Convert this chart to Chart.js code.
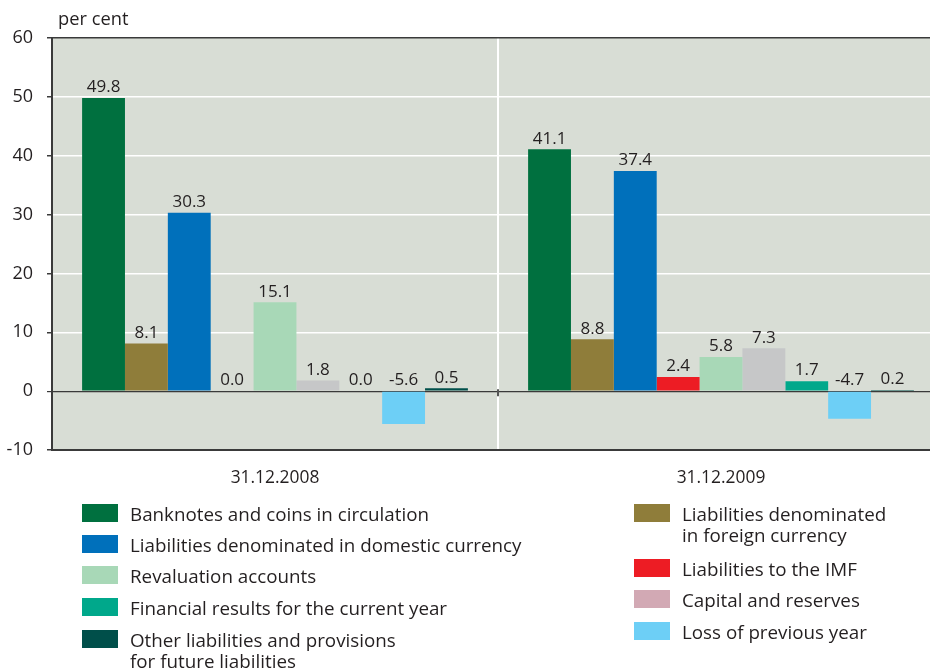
<!DOCTYPE html>
<html>
<head>
<meta charset="utf-8">
<script src="https://cdn.jsdelivr.net/npm/chart.js@4"></script>
<style>
  html, body { margin: 0; padding: 0; background: #fff; width: 930px; height: 669px; overflow: hidden; }
  #wrap { position: relative; width: 946px; height: 669px; }
  #chart { position: absolute; left: 0; top: 0; }
  .unit { position: absolute; left: 58px; top: 5px; font: 18.3px 'Open Sans', sans-serif; color: #231f20; }
  .item { position: absolute; font: 18.8px/21px 'Open Sans', sans-serif; color: #231f20; white-space: nowrap; }
  .sw { position: absolute; width: 36px; height: 18px; }
</style>
</head>
<body>
<div id="wrap">
  <canvas id="chart" width="946" height="669"></canvas>
  <div class="unit">per cent</div>
  <div id="legend"></div>
</div>
<script>
// Structure of liabilities, share in per cent
const categories = ['31.12.2008', '31.12.2009'];
const yTicks = [-10, 0, 10, 20, 30, 40, 50, 60];

const banknotes        = [49.8, 41.1];
const foreignCurrency  = [8.1, 8.8];
const domesticCurrency = [30.3, 37.4];
const imfLiabilities   = [0.0, 2.4];
const revaluation      = [15.1, 5.8];
const capitalReserves  = [1.8, 7.3];
const financialResults = [0.0, 1.7];
const lossPreviousYear = [-5.6, -4.7];
const otherLiabilities = [0.5, 0.2];

const seriesNames = [
  'Banknotes and coins in circulation',
  'Liabilities denominated\nin foreign currency',
  'Liabilities denominated in domestic currency',
  'Liabilities to the IMF',
  'Revaluation accounts',
  'Capital and reserves',
  'Financial results for the current year',
  'Loss of previous year',
  'Other liabilities and provisions\nfor future liabilities'
];
const seriesValues = [banknotes, foreignCurrency, domesticCurrency, imfLiabilities,
  revaluation, capitalReserves, financialResults, lossPreviousYear, otherLiabilities];
const barColors    = ['#00703f', '#8f7d3a', '#0070bb', '#ed1c24', '#a8d8b7', '#c6c7c8', '#00a88b', '#6dcff6', '#004f4a'];
const legendColors = ['#00703f', '#8f7d3a', '#0070bb', '#ed1c24', '#a8d8b7', '#d2a9b4', '#00a88b', '#6dcff6', '#004f4a'];

const TEXT = '#231f20';
const DARK = '#3a3a3a';
Chart.defaults.font.family = "'Open Sans', sans-serif";
Chart.defaults.color = TEXT;

const plotBackground = {
  id: 'plotBackground',
  beforeDraw(chart) {
    const { ctx, chartArea: a } = chart;
    ctx.save();
    ctx.fillStyle = '#d8ddd5';
    ctx.fillRect(a.left, a.top, a.right - a.left, a.bottom - a.top);
    ctx.restore();
  }
};

const valueLabels = {
  id: 'valueLabels',
  afterDatasetsDraw(chart) {
    const { ctx } = chart;
    const y0 = chart.scales.y.getPixelForValue(0);
    ctx.save();
    ctx.font = "17px 'Open Sans', sans-serif";
    ctx.fillStyle = TEXT;
    ctx.textAlign = 'center';
    ctx.textBaseline = 'bottom';
    chart.data.datasets.forEach((ds, i) => {
      chart.getDatasetMeta(i).data.forEach((bar, j) => {
        const v = ds.data[j];
        const y = v >= 0 ? bar.y : y0;
        ctx.fillText(v.toFixed(1), bar.x, y - 2);
      });
    });
    ctx.restore();
  }
};

const groupDivider = {
  id: 'groupDivider',
  afterDraw(chart) {
    const { ctx } = chart;
    const xs = chart.scales.x;
    const x = Math.round((xs.getPixelForValue(0) + xs.getPixelForValue(1)) / 2);
    const y0 = chart.scales.y.getPixelForValue(0);
    ctx.save();
    ctx.strokeStyle = '#555';
    ctx.lineWidth = 2;
    ctx.beginPath();
    ctx.moveTo(x, y0 - 2);
    ctx.lineTo(x, y0 + 5);
    ctx.stroke();
    ctx.restore();
  }
};

new Chart(document.getElementById('chart'), {
  type: 'bar',
  data: {
    labels: categories,
    datasets: seriesNames.map((name, i) => ({
      label: name,
      data: seriesValues[i],
      backgroundColor: barColors[i],
      borderWidth: 0,
      categoryPercentage: 0.865,
      barPercentage: 1.0
    }))
  },
  options: {
    responsive: false,
    animation: false,
    layout: { padding: { top: 38, left: 0, right: 2, bottom: 179 } },
    plugins: { legend: { display: false }, tooltip: { enabled: false } },
    scales: {
      x: {
        afterFit(scale) { scale.height = 40; },
        grid: {
          offset: true,
          drawTicks: false,
          color: (c) => (c.index === 1 ? '#ffffff' : 'rgba(0,0,0,0)'),
          lineWidth: 2
        },
        border: { display: true, color: DARK, width: 2 },
        ticks: { font: { size: 17.4 }, color: TEXT, padding: 18 }
      },
      y: {
        min: -10,
        max: 60,
        afterFit(scale) { scale.width = 52; },
        afterBuildTicks(scale) { scale.ticks = yTicks.map(v => ({ value: v })); },
        grid: {
          color: (c) => ([0, 60, -10].includes(c.tick && c.tick.value) ? DARK : '#ffffff'),
          lineWidth: (c) => (c.tick && c.tick.value === 0 ? 1.2 : 1.5),
          tickColor: DARK,
          tickLength: 5
        },
        border: { display: true, color: DARK, width: 2 },
        ticks: { font: { size: 18 }, color: TEXT, padding: 14 }
      }
    }
  },
  plugins: [plotBackground, valueLabels, groupDivider]
});

// Two-column legend below the plot
const legendLayout = [
  { s: 0, x: 82,  top: 504 },
  { s: 2, x: 82,  top: 535 },
  { s: 4, x: 82,  top: 566 },
  { s: 6, x: 82,  top: 598 },
  { s: 8, x: 82,  top: 630 },
  { s: 1, x: 634, top: 504 },
  { s: 3, x: 634, top: 559 },
  { s: 5, x: 634, top: 590 },
  { s: 7, x: 634, top: 622 }
];
const legend = document.getElementById('legend');
legendLayout.forEach(({ s, x, top }) => {
  const sw = document.createElement('div');
  sw.className = 'sw';
  sw.style.left = x + 'px';
  sw.style.top = top + 'px';
  sw.style.background = legendColors[s];
  legend.appendChild(sw);
  const t = document.createElement('div');
  t.className = 'item';
  t.style.left = (x + 48) + 'px';
  t.style.top = top + 'px';
  t.innerHTML = seriesNames[s].split('\n').join('<br>');
  legend.appendChild(t);
});
</script>
</body>
</html>
